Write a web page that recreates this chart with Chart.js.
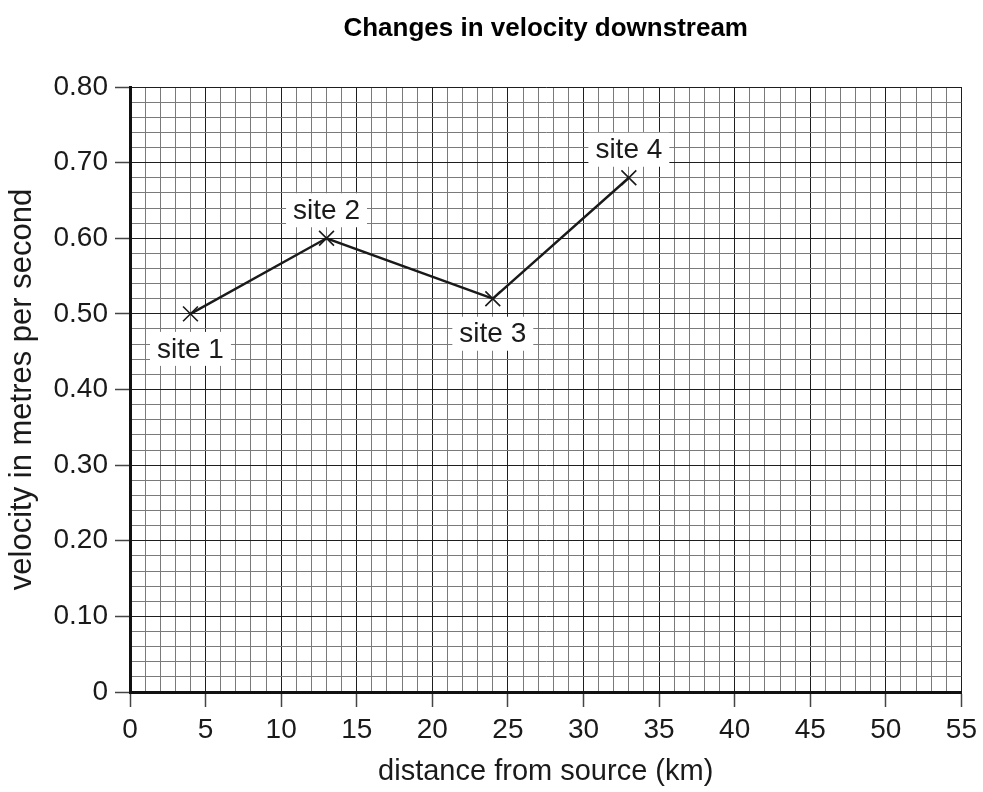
<!DOCTYPE html>
<html>
<head>
<meta charset="utf-8">
<script src="https://cdn.jsdelivr.net/npm/chart.js@4"></script>
<style>
  html, body { margin: 0; padding: 0; background: #fff; }
  #wrap { width: 983px; height: 792px; position: relative; }
</style>
</head>
<body>
<div id="wrap"><canvas id="c" width="983" height="792"></canvas></div>
<script>
// ---- data ----
const siteNames = ['site 1', 'site 2', 'site 3', 'site 4'];
const distances = [4, 13, 24, 33];            // km from source
const velocities = [0.50, 0.60, 0.52, 0.68];  // metres per second
const xTickLabels = ['0', '5', '10', '15', '20', '25', '30', '35', '40', '45', '50', '55'];
const yTickLabels = ['0', '0.10', '0.20', '0.30', '0.40', '0.50', '0.60', '0.70', '0.80'];

const chartTitle = 'Changes in velocity downstream';
const xTitle = 'distance from source (km)';
const yTitle = 'velocity in metres per second';

// ---- axis structure (graph-paper grid) ----
const X_MAX = 55, X_MINOR_STEP = 1;      // km
const Y_MAX = 0.8, Y_MINOR_COUNT = 40;   // 0.02 steps

// ---- styling ----
const FONT = "'Liberation Sans', Arial, Helvetica, sans-serif";
const labelSide = ['below', 'above', 'below', 'above'];
const MINOR = '#7a7a7a';
const MAJOR = '#1e1e1e';

const points = distances.map((d, i) => ({ x: d, y: velocities[i] }));

const siteLabelPlugin = {
  id: 'siteLabels',
  beforeDatasetsDraw(chart) {
    const ctx = chart.ctx;
    const meta = chart.getDatasetMeta(0);
    ctx.save();
    ctx.font = '28px ' + FONT;
    ctx.textAlign = 'center';
    ctx.textBaseline = 'middle';
    meta.data.forEach((pt, i) => {
      const cy = pt.y + (labelSide[i] === 'above' ? -28 : 35);
      const w = ctx.measureText(siteNames[i]).width + 14;
      const h = 34;
      ctx.fillStyle = '#ffffff';
      ctx.fillRect(pt.x - w / 2, cy - h / 2, w, h);
      ctx.fillStyle = '#1a1a1a';
      ctx.fillText(siteNames[i], pt.x, cy + 1);
    });
    ctx.restore();
  }
};

const isMajorX = v => Math.round(v) % 5 === 0;
const isMajorY = v => Math.round(v * 100) % 10 === 0;

new Chart(document.getElementById('c'), {
  type: 'line',
  data: {
    datasets: [{
      data: points,
      borderColor: '#1a1a1a',
      borderWidth: 2.4,
      pointStyle: 'crossRot',
      pointRadius: 10.5,
      pointBorderWidth: 1.6,
      pointBorderColor: '#1a1a1a',
      pointBackgroundColor: '#1a1a1a',
      tension: 0,
      fill: false
    }]
  },
  options: {
    responsive: false,
    animation: false,
    devicePixelRatio: 1,
    layout: { padding: { left: 0, right: 21, top: 0, bottom: 0 } },
    plugins: {
      legend: { display: false },
      tooltip: { enabled: false },
      title: {
        display: true,
        text: chartTitle,
        fullSize: false,
        color: '#000',
        font: { family: FONT, size: 26, weight: 'bold' },
        padding: { top: 13, bottom: 42.8 }
      }
    },
    scales: {
      x: {
        type: 'linear',
        min: 0, max: X_MAX,
        afterFit: s => { s.height = 100; },
        afterBuildTicks: s => {
          const t = [];
          for (let v = 0; v <= X_MAX; v += X_MINOR_STEP) t.push({ value: v });
          s.ticks = t;
        },
        ticks: {
          autoSkip: false,
          maxRotation: 0,
          padding: 6,
          color: '#1a1a1a',
          font: { family: FONT, size: 28 },
          callback: v => isMajorX(v) ? xTickLabels[Math.round(v) / 5] : ''
        },
        grid: {
          color: c => isMajorX(c.tick.value) ? MAJOR : MINOR,
          lineWidth: 1,
          tickLength: 15,
          tickColor: c => isMajorX(c.tick.value) ? '#444' : 'rgba(0,0,0,0)',
          tickWidth: 1.5
        },
        border: { display: true, color: '#111', width: 3 },
        title: {
          display: true,
          text: xTitle,
          color: '#1a1a1a',
          font: { family: FONT, size: 29 },
          padding: { top: 0, bottom: 3 }
        }
      },
      y: {
        type: 'linear',
        min: 0, max: Y_MAX,
        afterFit: s => { s.width = 130; },
        afterBuildTicks: s => {
          const t = [];
          for (let k = 0; k <= Y_MINOR_COUNT; k++) t.push({ value: k * Y_MAX / Y_MINOR_COUNT });
          s.ticks = t;
        },
        ticks: {
          autoSkip: false,
          padding: 7,
          color: '#1a1a1a',
          font: { family: FONT, size: 28 },
          callback: v => isMajorY(v) ? yTickLabels[Math.round(v * 10)] : ''
        },
        grid: {
          color: c => isMajorY(c.tick.value) ? MAJOR : MINOR,
          lineWidth: 1,
          tickLength: 15,
          tickColor: c => isMajorY(c.tick.value) ? '#444' : 'rgba(0,0,0,0)',
          tickWidth: 1.5
        },
        border: { display: true, color: '#111', width: 3 },
        title: {
          display: true,
          text: yTitle,
          color: '#1a1a1a',
          font: { family: FONT, size: 31 },
          padding: { top: 4, bottom: 0 }
        }
      }
    }
  },
  plugins: [siteLabelPlugin]
});
</script>
</body>
</html>
